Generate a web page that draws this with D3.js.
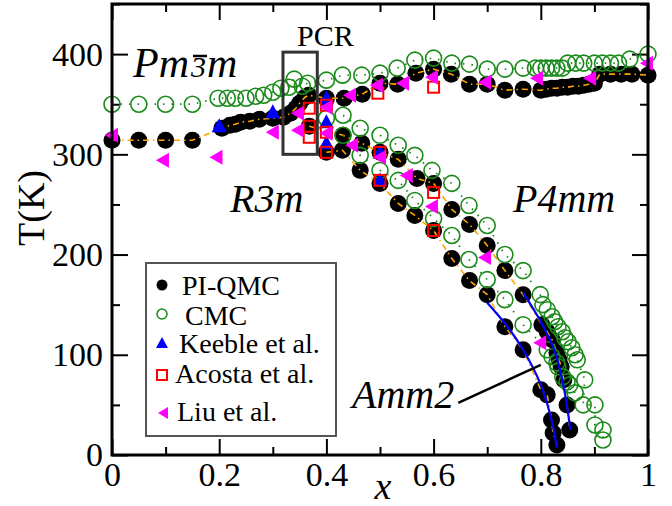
<!DOCTYPE html>
<html>
<head>
<meta charset="utf-8">
<script src="https://cdn.jsdelivr.net/npm/d3@7"></script>
<style>
body { margin: 0; background: #fff; }
</style>
</head>
<body>
<svg id="chart" width="672" height="506" font-family="Liberation Serif, DejaVu Serif, serif"></svg>
<script>
// data: [x, T(K)]
var qmcTop = [[0,314],[0.05,314],[0.1,314],[0.15,314],[0.205,326],[0.22,329],[0.23,330],[0.24,332],[0.257,333],[0.275,335],[0.3,336],[0.32,337],[0.333,341],[0.343,346],[0.35,351],[0.36,357],[0.367,359],[0.4,356],[0.433,356],[0.467,360],[0.5,371],[0.533,370],[0.567,381],[0.6,385],[0.633,380],[0.667,370],[0.7,370],[0.733,364],[0.767,365],[0.8,364],[0.81,365],[0.82,366],[0.83,366],[0.84,367],[0.85,367],[0.86,368],[0.87,368],[0.88,369],[0.89,370],[0.9,371],[0.91,380],[0.93,380],[0.95,380],[0.97,380],[1,379]];
var qmcMid = [[0.368,328],[0.431,319],[0.466,311],[0.5,302],[0.534,295],[0.569,276],[0.6,271],[0.634,245],[0.667,230],[0.7,209],[0.733,184],[0.767,160],[0.802,130],[0.812,123],[0.821,115],[0.83,102],[0.834,95],[0.838,88],[0.843,75],[0.849,50],[0.854,25]];
var qmcLow = [[0.4,302],[0.43,304],[0.463,284],[0.5,271],[0.534,251],[0.565,239],[0.6,224],[0.634,196],[0.667,174],[0.7,160],[0.733,128],[0.767,105],[0.8,65],[0.812,60],[0.82,35],[0.823,22],[0.83,10]];
var cmcTop = [[0,350],[0.05,350],[0.1,350],[0.15,350],[0.198,356],[0.215,356],[0.23,356],[0.25,356],[0.268,358],[0.283,359],[0.3,362],[0.315,366],[0.33,367],[0.34,375],[0.355,368],[0.365,371],[0.4,374],[0.43,379],[0.466,379],[0.5,381],[0.532,386],[0.565,394],[0.6,396],[0.634,391],[0.667,390],[0.7,385],[0.733,385],[0.767,386],[0.79,386],[0.8,386],[0.81,386],[0.82,386],[0.83,386],[0.84,386],[0.85,391],[0.865,391],[0.88,391],[0.9,391],[0.915,391],[0.93,391],[0.945,391],[0.966,395],[1,400]];
var cmcMid = [[0.4,336],[0.431,339],[0.463,326],[0.5,319],[0.534,309],[0.565,299],[0.597,284],[0.634,271],[0.666,249],[0.7,229],[0.733,200],[0.767,184],[0.799,160],[0.804,150],[0.812,145],[0.821,138],[0.826,133],[0.832,128],[0.84,123],[0.845,117],[0.851,113],[0.858,107],[0.864,100],[0.868,95],[0.882,75],[0.879,50],[0.901,50],[0.901,30],[0.916,25],[0.916,15]];
var cmcLow = [[0.431,319],[0.463,299],[0.5,284],[0.534,274],[0.565,254],[0.6,236],[0.634,219],[0.666,195],[0.7,175],[0.733,155],[0.767,130],[0.812,105],[0.821,98],[0.83,92],[0.832,88],[0.841,78],[0.849,73],[0.854,70],[0.864,62]];
var keeble = [[0.2,328],[0.3,342],[0.4,356],[0.4,332],[0.4,311],[0.5,302],[0.5,274]];
var acosta = [[0.368,346],[0.368,328],[0.368,317],[0.4,349],[0.4,322],[0.4,302],[0.496,361],[0.5,302],[0.5,274],[0.6,367],[0.6,262],[0.6,224]];
var liu = [[0,319],[0.095,294],[0.195,297],[0.3,322],[0.347,341],[0.347,324],[0.4,347],[0.4,321],[0.444,359],[0.448,309],[0.494,369],[0.5,297],[0.543,371],[0.55,279],[0.597,377],[0.597,248],[0.696,372],[0.696,197],[0.793,376],[0.799,112],[0.892,376],[0.998,391]];
var amm2Left = [[0.7,152],[0.735,130],[0.767,105],[0.8,70],[0.82,35],[0.83,7]];
var amm2Right = [[0.767,162],[0.8,133],[0.825,105],[0.84,75],[0.85,45],[0.855,25]];
var pcrBox = [[0.319,402],[0.383,300]];
var amm2Pointer = [[0.646,52],[0.8,90]];
var xTicks = [0, 0.2, 0.4, 0.6, 0.8, 1];
var xMinor = [0.1, 0.3, 0.5, 0.7, 0.9];
var yTicks = [0, 100, 200, 300, 400];
var yMinor = [50, 150, 250, 350, 450];
var legendNames = ["PI-QMC", "CMC", "Keeble et al.", "Acosta et al.", "Liu et al."];

var serif = "Liberation Serif, DejaVu Serif, serif";
var svg = d3.select('#chart');
var x = d3.scaleLinear().domain([0, 1]).range([112, 648]);
var y = d3.scaleLinear().domain([0, 450]).range([455, 4]);

var green = "#1a8a1a", orange = "#ffa500";

// axes, ticks pointing inward on all four sides
function addAxis(axis, tr, size, vals, fmt, pad) {
    var g = svg.append('g').attr('transform', tr)
        .call(axis.tickValues(vals).tickSize(size).tickPadding(pad).tickFormat(fmt));
    g.attr('font-family', serif).attr('font-size', 34);
    g.select('.domain').remove();
    g.selectAll('.tick line').attr('stroke', '#000').attr('stroke-width', 2);
    g.selectAll('text').attr('fill', '#000');
    return g;
}
var none = function() { return ""; };
addAxis(d3.axisBottom(x), 'translate(0,455)', -16, xTicks, function(d){ return String(d); }, 7);
addAxis(d3.axisBottom(x), 'translate(0,455)', -8, xMinor, none, 0);
addAxis(d3.axisTop(x), 'translate(0,4)', -16, xTicks, none, 0);
addAxis(d3.axisTop(x), 'translate(0,4)', -8, xMinor, none, 0);
addAxis(d3.axisLeft(y), 'translate(112,0)', -16, yTicks, function(d){ return String(d); }, 9);
addAxis(d3.axisLeft(y), 'translate(112,0)', -8, yMinor, none, 0);
addAxis(d3.axisRight(y), 'translate(648,0)', -16, yTicks, none, 0);
addAxis(d3.axisRight(y), 'translate(648,0)', -8, yMinor, none, 0);

var line = d3.line().x(function(d){ return x(d[0]); }).y(function(d){ return y(d[1]); });
var smooth = d3.line().curve(d3.curveCatmullRom).x(function(d){ return x(d[0]); }).y(function(d){ return y(d[1]); });

// PI-QMC
[qmcTop, qmcMid, qmcLow].forEach(function(s) {
    svg.append('g').selectAll('circle').data(s).enter().append('circle')
        .attr('cx', function(d){ return x(d[0]); })
        .attr('cy', function(d){ return y(d[1]); })
        .attr('r', 8.5).attr('fill', '#000');
});
[qmcTop, qmcMid, qmcLow].forEach(function(s) {
    svg.append('path').datum(s).attr('d', line).attr('fill', 'none')
        .attr('stroke', orange).attr('stroke-width', 1.6).attr('stroke-dasharray', '6,4,1.5,4');
});

// CMC
[cmcTop, cmcMid, cmcLow].forEach(function(s) {
    svg.append('g').selectAll('circle').data(s).enter().append('circle')
        .attr('cx', function(d){ return x(d[0]); })
        .attr('cy', function(d){ return y(d[1]); })
        .attr('r', 8).attr('fill', 'none').attr('stroke', green).attr('stroke-width', 1.6);
    svg.append('path').datum(s).attr('d', line).attr('fill', 'none')
        .attr('stroke', green).attr('stroke-width', 1.8).attr('stroke-dasharray', '1.5,7');
});

// Keeble
svg.append('g').selectAll('path').data(keeble).enter().append('path')
    .attr('d', 'M0,-8L7.5,6L-7.5,6Z')
    .attr('transform', function(d){ return 'translate(' + x(d[0]) + ',' + y(d[1]) + ')'; })
    .attr('fill', '#0000ff');

// Acosta
svg.append('g').selectAll('rect').data(acosta).enter().append('rect')
    .attr('x', function(d){ return x(d[0]) - 5.5; })
    .attr('y', function(d){ return y(d[1]) - 5.5; })
    .attr('width', 11).attr('height', 11)
    .attr('fill', 'none').attr('stroke', '#ff0000').attr('stroke-width', 2);

// Liu
svg.append('g').selectAll('path').data(liu).enter().append('path')
    .attr('d', 'M-7,0L6,-7.5L6,7.5Z')
    .attr('transform', function(d){ return 'translate(' + x(d[0]) + ',' + y(d[1]) + ')'; })
    .attr('fill', '#ff00ff');

// Amm2 boundaries
[amm2Left, amm2Right].forEach(function(s) {
    svg.append('path').datum(s).attr('d', smooth).attr('fill', 'none')
        .attr('stroke', '#0000ff').attr('stroke-width', 2.2);
});

// PCR box
svg.append('rect')
    .attr('x', x(pcrBox[0][0])).attr('y', y(pcrBox[0][1]))
    .attr('width', x(pcrBox[1][0]) - x(pcrBox[0][0]))
    .attr('height', y(pcrBox[1][1]) - y(pcrBox[0][1]))
    .attr('fill', 'none').attr('stroke', '#333').attr('stroke-width', 3);
svg.append('text').attr('x', 297).attr('y', 46).attr('font-size', 30).text('PCR');

// Amm2 pointer
svg.append('path').datum(amm2Pointer).attr('d', line)
    .attr('stroke', '#000').attr('stroke-width', 2.5);

// phase labels
function phase(t, px, py) {
    return svg.append('text').attr('x', px).attr('y', py)
        .attr('font-size', 40).attr('font-style', 'italic').text(t);
}
var pm = svg.append('text').attr('x', 133).attr('y', 77)
    .attr('font-size', 42).attr('font-style', 'italic');
pm.append('tspan').text('Pm');
pm.append('tspan').attr('font-size', 30).attr('dx', 2).text('3');
pm.append('tspan').attr('dx', 1).text('m');
var n = pm.node();
var a = n.getStartPositionOfChar(2), b = n.getEndPositionOfChar(2);
svg.append('line').attr('x1', a.x + 2).attr('x2', b.x + 1)
    .attr('y1', 56).attr('y2', 56).attr('stroke', '#000').attr('stroke-width', 2.5);
phase('R3m', 230, 212);
phase('P4mm', 513, 212);
phase('Amm2', 352, 408);

// frame
svg.append('rect').attr('x', 112).attr('y', 4).attr('width', 536).attr('height', 451)
    .attr('fill', 'none').attr('stroke', '#000').attr('stroke-width', 3);

// axis titles
svg.append('text').attr('transform', 'translate(44,208) rotate(-90)')
    .attr('text-anchor', 'middle').attr('font-size', 38).text('T(K)');
svg.append('text').attr('x', 383).attr('y', 499).attr('text-anchor', 'middle')
    .attr('font-size', 38).attr('font-style', 'italic').text('x');

// legend
var lg = svg.append('g');
lg.append('rect').attr('x', 146).attr('y', 263).attr('width', 190).attr('height', 173)
    .attr('fill', '#fff').attr('stroke', '#555').attr('stroke-width', 2);
var legY = [285, 314, 343, 375, 413];
var legTx = [182, 185, 179, 175, 177];
var legBase = [295, 325, 353, 383, 421];
legendNames.forEach(function(name, i) {
    lg.append('text').attr('x', legTx[i]).attr('y', legBase[i]).attr('font-size', 28).text(name);
});
lg.append('circle').attr('cx', 162).attr('cy', legY[0]).attr('r', 5.5).attr('fill', '#000');
lg.append('circle').attr('cx', 162).attr('cy', legY[1]).attr('r', 5).attr('fill', 'none')
    .attr('stroke', green).attr('stroke-width', 1.5);
lg.append('path').attr('d', 'M0,-6L6,5L-6,5Z').attr('fill', '#0000ff')
    .attr('transform', 'translate(162,' + legY[2] + ')');
lg.append('rect').attr('x', 157).attr('y', legY[3] - 5).attr('width', 10).attr('height', 10)
    .attr('fill', 'none').attr('stroke', '#ff0000').attr('stroke-width', 2);
lg.append('path').attr('d', 'M-5,0L5,-6L5,6Z').attr('fill', '#ff00ff')
    .attr('transform', 'translate(163,' + legY[4] + ')');
</script>
</body>
</html>
